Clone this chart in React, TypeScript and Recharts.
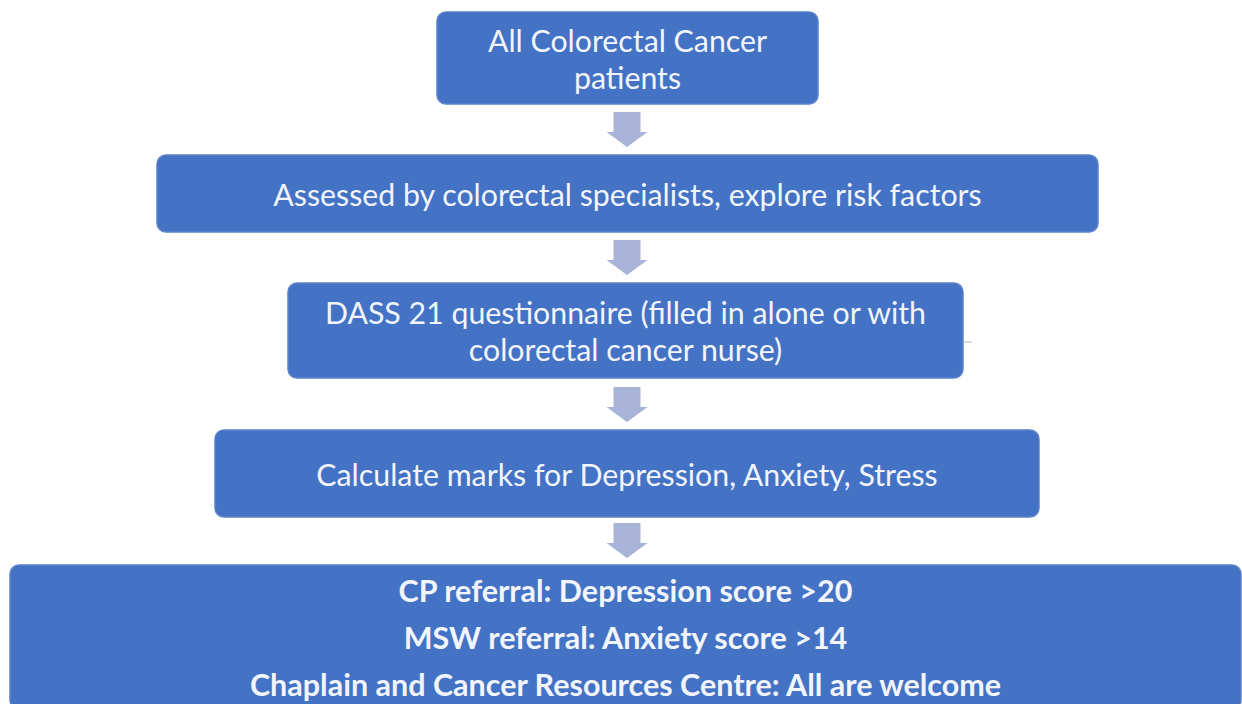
import React from "react";
import { ScatterChart, Scatter, XAxis, YAxis, ReferenceArea, ReferenceLine } from "recharts";

// Flowchart steps (text lines of each box)
const stepLines: string[][] = [
  ["All Colorectal Cancer", "patients"],
  ["Assessed by colorectal specialists, explore risk factors"],
  ["DASS 21 questionnaire (filled in alone or with", "colorectal cancer nurse)"],
  ["Calculate marks for Depression, Anxiety, Stress"],
  [
    "CP referral: Depression score >20",
    "MSW referral: Anxiety score >14",
    "Chaplain and Cancer Resources Centre: All are welcome",
  ],
];
const stepBold: boolean[] = [false, false, false, false, true];

// Box extents in the flowchart's coordinate units
const boxLeft: number[] = [437, 157, 288, 215, 10];
const boxRight: number[] = [818, 1098, 963, 1039, 1241];
const boxTop: number[] = [12, 155, 283, 430, 565];
const boxBottom: number[] = [104, 232, 378, 517, 709];

// Arrows between steps (centre x, top y)
const arrowX: number[] = [627, 627, 627, 627];
const arrowTop: number[] = [112, 240, 387, 523];

const W = 1242;
const H = 704;
const BOX_FILL = "#4472C4";
const BOX_STROKE = "#5b83cb";
const ARROW_FILL = "#a9b3d8";
const TEXT_FILL = "#f2f5fb";
const FONT = "Lato, 'Open Sans', sans-serif";

const arrowData = arrowX.map((x, i) => ({ x, y: arrowTop[i] }));

const lineGap = (i: number) => (stepBold[i] ? 47 : 37);

const makeBoxShape = (i: number) => (props: any) => {
  const { x, y, width, height } = props;
  const lines = stepLines[i];
  const gap = lineGap(i);
  const cy = y + height / 2;
  const cx = x + width / 2;
  const start = cy - ((lines.length - 1) * gap) / 2;
  return (
    <g>
      <rect
        x={x}
        y={y}
        width={width}
        height={height}
        rx={9}
        ry={9}
        fill={BOX_FILL}
        stroke={BOX_STROKE}
        strokeWidth={1.5}
      />
      {lines.map((t, k) => (
        <text
          key={k}
          x={cx}
          y={start + k * gap}
          textAnchor="middle"
          dominantBaseline="central"
          fill={TEXT_FILL}
          fontFamily={FONT}
          fontSize={stepBold[i] ? 30.5 : 30.3}
          fontWeight={stepBold[i] ? 700 : 400}
        >
          {t}
        </text>
      ))}
    </g>
  );
};

const ArrowShape = (props: any) => {
  const { cx, cy } = props;
  const shaftHalf = 13.5;
  const headHalf = 20.5;
  const shaftLen = 20;
  const headLen = 15;
  const pts = [
    [cx - shaftHalf, cy],
    [cx + shaftHalf, cy],
    [cx + shaftHalf, cy + shaftLen],
    [cx + headHalf, cy + shaftLen],
    [cx, cy + shaftLen + headLen],
    [cx - headHalf, cy + shaftLen],
    [cx - shaftHalf, cy + shaftLen],
  ]
    .map((p) => p.join(","))
    .join(" ");
  return <polygon points={pts} fill={ARROW_FILL} />;
};

export default function App() {
  return (
    <div style={{ position: "fixed", left: 0, top: 0, width: W, height: H, background: "#ffffff" }}>
      <ScatterChart width={W} height={H} margin={{ top: 0, right: 0, bottom: 0, left: 0 }}>
        <XAxis type="number" dataKey="x" domain={[0, W]} hide allowDataOverflow />
        <YAxis type="number" dataKey="y" domain={[0, H]} reversed hide allowDataOverflow />
        {stepLines.map((_, i) => (
          <ReferenceArea
            key={i}
            x1={boxLeft[i]}
            x2={boxRight[i]}
            y1={boxTop[i]}
            y2={boxBottom[i]}
            ifOverflow="visible"
            shape={makeBoxShape(i)}
          />
        ))}
        <ReferenceLine
          segment={[
            { x: 963, y: 342 },
            { x: 972, y: 342 },
          ]}
          stroke="#b8bcc6"
          strokeWidth={1}
          ifOverflow="visible"
        />
        <Scatter data={arrowData} shape={ArrowShape} isAnimationActive={false} />
      </ScatterChart>
    </div>
  );
}
